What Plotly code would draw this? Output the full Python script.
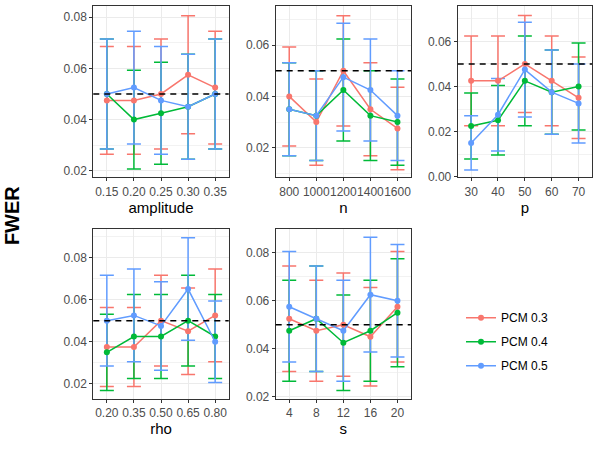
import plotly.graph_objects as go

series = ["PCM 0.3", "PCM 0.4", "PCM 0.5"]
colors = ["#F8766D", "#00BA38", "#619CFF"]

# amplitude panel
amplitude_x = ["0.15", "0.20", "0.25", "0.30", "0.35"]
amplitude_fwer = [
    [0.0475, 0.0475, 0.05, 0.0575, 0.0525],
    [0.05, 0.04, 0.0425, 0.045, 0.05],
    [0.05, 0.0525, 0.0475, 0.045, 0.05],
]
amplitude_err = [
    [0.021, 0.021, 0.0215, 0.023, 0.022],
    [0.0215, 0.0193, 0.0199, 0.0205, 0.0215],
    [0.0215, 0.022, 0.021, 0.0205, 0.0215],
]

# n panel
n_x = ["800", "1000", "1200", "1400", "1600"]
n_fwer = [
    [0.04, 0.03, 0.05, 0.035, 0.0275],
    [0.035, 0.0325, 0.0425, 0.0325, 0.03],
    [0.035, 0.0325, 0.0475, 0.0425, 0.0325],
]
n_err = [
    [0.0193, 0.0168, 0.0215, 0.0181, 0.0161],
    [0.0181, 0.0175, 0.0199, 0.0175, 0.0168],
    [0.0181, 0.0175, 0.021, 0.0199, 0.0175],
]

# p panel
p_x = ["30", "40", "50", "60", "70"]
p_fwer = [
    [0.0425, 0.0425, 0.05, 0.0425, 0.035],
    [0.0225, 0.025, 0.0425, 0.0375, 0.04],
    [0.015, 0.0275, 0.0475, 0.0375, 0.0325],
]
p_err = [
    [0.0199, 0.0199, 0.0215, 0.0199, 0.0181],
    [0.0146, 0.0154, 0.0199, 0.0187, 0.0193],
    [0.012, 0.0161, 0.021, 0.0187, 0.0175],
]

# rho panel
rho_x = ["0.20", "0.35", "0.50", "0.65", "0.80"]
rho_fwer = [
    [0.0375, 0.0375, 0.05, 0.045, 0.0525],
    [0.035, 0.0425, 0.0425, 0.05, 0.0425],
    [0.05, 0.0525, 0.0475, 0.065, 0.04],
]
rho_err = [
    [0.0187, 0.0187, 0.0215, 0.0205, 0.022],
    [0.0181, 0.0199, 0.0199, 0.0215, 0.0199],
    [0.0215, 0.022, 0.021, 0.0243, 0.0193],
]

# s panel
s_x = ["4", "8", "12", "16", "20"]
s_fwer = [
    [0.0525, 0.0475, 0.05, 0.045, 0.0575],
    [0.0475, 0.0525, 0.0425, 0.0475, 0.055],
    [0.0575, 0.0525, 0.0475, 0.0625, 0.06],
]
s_err = [
    [0.022, 0.021, 0.0215, 0.0205, 0.023],
    [0.021, 0.022, 0.0199, 0.021, 0.0225],
    [0.023, 0.022, 0.021, 0.0239, 0.0234],
]

nominal = 0.05

panels = [
    ("amplitude", amplitude_x, amplitude_fwer, amplitude_err, [0.0175, 0.0842]),
    ("n", n_x, n_fwer, n_err, [0.0085, 0.0751]),
    ("p", p_x, p_fwer, p_err, [-0.0002, 0.0755]),
    ("rho", rho_x, rho_fwer, rho_err, [0.013, 0.0933]),
    ("s", s_x, s_fwer, s_err, [0.0192, 0.0897]),
]

# panel boxes in pixels (left, right, top, bottom) of a 600x450 page
W, H = 600, 450
boxes = [
    (93.3, 228.7, 6.5, 180),
    (275.7, 411.0, 6.5, 180),
    (457.7, 592.0, 6.5, 180),
    (93.3, 228.7, 233, 405),
    (275.7, 411.0, 233, 405),
]

fig = go.Figure()
font_family = "Liberation Sans, Arial, sans-serif"

for i, (name, xs, fwer, err, yr) in enumerate(panels):
    k = "" if i == 0 else str(i + 1)
    # error bars underneath everything
    for j in range(3):
        fig.add_trace(go.Scatter(
            x=xs, y=fwer[j], mode="markers",
            marker=dict(size=1, color="rgba(0,0,0,0)"),
            error_y=dict(type="data", array=err[j], color=colors[j],
                         thickness=1.5, width=7),
            xaxis="x" + k, yaxis="y" + k, showlegend=False,
            legendgroup=series[j], hoverinfo="skip",
        ))
    for j in range(3):
        fig.add_trace(go.Scatter(
            x=xs, y=fwer[j], mode="lines+markers", name=series[j],
            line=dict(color=colors[j], width=1.5),
            marker=dict(color=colors[j], size=6),
            xaxis="x" + k, yaxis="y" + k, showlegend=(i == 0),
            legendgroup=series[j],
        ))
    l, r, t, b = boxes[i]
    fig.add_shape(type="line", xref="x" + k + " domain", yref="y" + k,
                  x0=0, x1=1, y0=nominal, y1=nominal,
                  line=dict(color="black", width=1.5, dash="6px,5px"))
    axis_common = dict(showline=True, mirror=True, linecolor="#333333", linewidth=1,
                       ticks="outside", ticklen=3, tickcolor="#333333",
                       tickfont=dict(size=12, color="#4D4D4D"),
                       gridcolor="#EBEBEB", gridwidth=1, zeroline=False)
    fig.layout["xaxis" + k] = dict(
        axis_common, domain=[l / W, r / W], anchor="y" + k,
        type="category", categoryorder="array", categoryarray=xs,
        range=[-0.5, 4.5], tickangle=0,
        title=dict(text=name, font=dict(size=15, color="black"), standoff=2),
    )
    fig.layout["yaxis" + k] = dict(
        axis_common, domain=[1 - b / H, 1 - t / H], anchor="x" + k,
        range=yr, tick0=0, dtick=0.02, tickformat=".2f",
        minor=dict(dtick=0.01, tick0=0, showgrid=True, gridcolor="#F2F2F2",
                   gridwidth=0.6, ticks=""),
    )

fig.add_annotation(text="<b>FWER</b>", x=11.5 / W, y=1 - 219 / H, xref="paper", yref="paper",
                   xanchor="center", yanchor="middle",
                   textangle=-90, showarrow=False, font=dict(size=20, color="black"))

fig.update_layout(
    width=W, height=H,
    margin=dict(l=0, r=0, t=0, b=0),
    paper_bgcolor="white", plot_bgcolor="white",
    font=dict(family=font_family),
    legend=dict(x=461 / W, y=1 - 308 / H, xanchor="left", yanchor="top",
                font=dict(size=12, color="black"), tracegroupgap=5,
                bgcolor="rgba(0,0,0,0)"),
)

# drop the default body margin so the 600x450 figure sits flush in the window
fig.write_html("out.html", config={"displayModeBar": False},
               post_script="document.body.style.margin='0';")
